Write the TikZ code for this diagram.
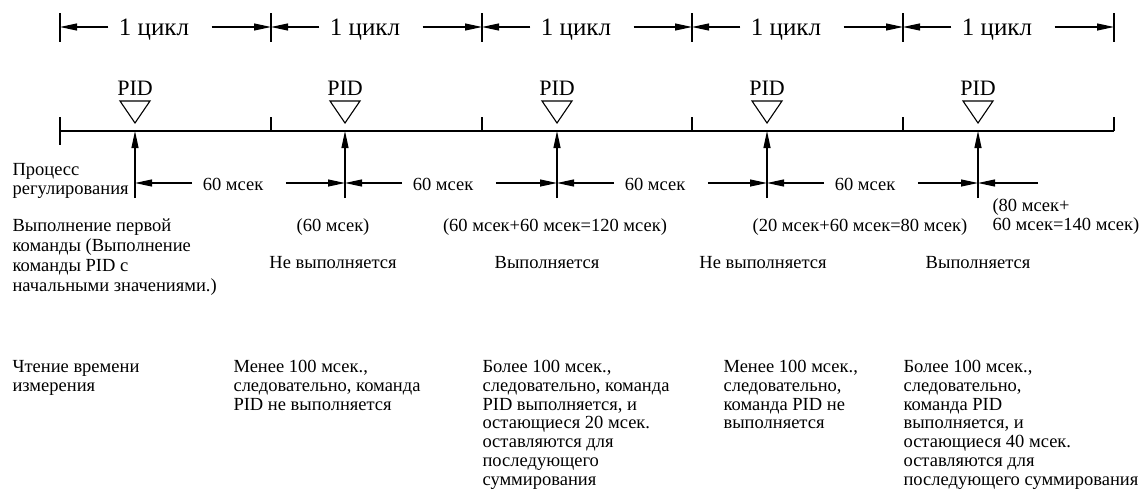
\documentclass[tikz,border=0pt]{standalone}
\usepackage{fontspec}
\setmainfont{Liberation Serif}
\usetikzlibrary{arrows.meta}

\begin{document}
\begin{tikzpicture}[x=1pt, y=-1pt, line width=1.1pt,
  arr/.style={-{Triangle[length=17pt,width=7pt]}},
  big/.style={font=\fontsize{22}{24}\selectfont, inner sep=0pt},
  cyclbl/.style={font=\fontsize{25}{27}\selectfont, inner sep=0pt},
  txt/.style={font=\fontsize{18.5}{18.7}\selectfont, inner sep=0pt},
  para/.style={txt, align=left, anchor=north west}]
  \useasboundingbox (0,0) rectangle (1146,498);

	% Timeline
	\coordinate (g0) at (60,131);
	\coordinate (g5) at (1114,131);
	\draw (g0) -- (g5);
	\draw (g0) -- (60,145);
	\foreach \x in {60,271,482,692,903,1114} {
		\draw (\x,13) -- (\x,42);
		\draw (\x,117) -- (\x,131);
	}

	% Cycles
	\foreach \i/\x/\n in {0/60/271, 1/271/482, 2/482/692, 3/692/903, 4/903/1114} {
		\coordinate (ta\i) at (\x,27);
		\coordinate (tb\i) at (\n,27);
		\node[cyclbl, anchor=base] (cyc\i) at (\x+94,35) {1 цикл};
		\draw[arr] ([xshift=-10pt]cyc\i.west |- ta\i) -- (ta\i);
		\draw[arr] ([xshift=22pt]cyc\i.east |- tb\i) -- (tb\i);
	}

	% PID marks
	\foreach \i/\p in {0/135, 1/345, 2/557, 3/767, 4/978} {
		\node[big, anchor=base] (pid\i) at (\p,95) {PID};
		\draw (\p-15,101) -- (\p+15,101) -- (\p,123) -- cycle;
		\coordinate (up\i) at (\p,131);
		\coordinate (lo\i) at (\p,198);
		\draw[arr] (lo\i) -- (up\i);
	}

	% 60 ms intervals
	\foreach \i/\p/\n in {0/135/345, 1/345/557, 2/557/767, 3/767/978} {
		\coordinate (da\i) at (\p,183);
		\coordinate (db\i) at (\n,183);
		\node[txt, anchor=base] (ms\i) at (\p+98,190) {60 мсек};
		\draw[arr] ([xshift=-10pt]ms\i.west |- da\i) -- (da\i);
		\draw[arr] ([xshift=22pt]ms\i.east |- da\i) -- (db\i);
	}
	\coordinate (dend) at (978,183);
	\coordinate (dtail) at (1038,183);
	\draw[arr] (dtail) -- (dend);

	% Row labels
	\node[para] (proc) at (12,163) {Процесс\\регулирования};
	\node[para, font=\fontsize{18.5}{20}\selectfont] (first) at (12,218)
		{Выполнение первой\\команды (Выполнение\\команды PID с\\начальными значениями.)};
	\node[para] (read) at (12,360) {Чтение времени\\измерения};

	% Accumulated time
	\node[txt, anchor=base] (sum1) at (333,231) {(60 мсек)};
	\node[txt, anchor=base] (sum2) at (555,231) {(60 мсек+60 мсек=120 мсек)};
	\node[txt, anchor=base] (sum3) at (860,231) {(20 мсек+60 мсек=80 мсек)};
	\node[para] (sum4) at (992,198) {(80 мсек+\\60 мсек=140 мсек)};

	% Execution
	\node[txt, anchor=base] (ex1) at (333,268) {Не выполняется};
	\node[txt, anchor=base] (ex2) at (547,268) {Выполняется};
	\node[txt, anchor=base] (ex3) at (763,268) {Не выполняется};
	\node[txt, anchor=base] (ex4) at (978,268) {Выполняется};

	% Explanations
	\node[para] (note1) at (233,360) {Менее 100 мсек.,\\следовательно, команда\\PID не выполняется};
	\node[para] (note2) at (482,360) {Более 100 мсек.,\\следовательно, команда\\PID выполняется, и\\остающиеся 20 мсек.\\оставляются для\\последующего\\суммирования};
	\node[para] (note3) at (723,360) {Менее 100 мсек.,\\следовательно,\\команда PID не\\выполняется};
	\node[para] (note4) at (903,360) {Более 100 мсек.,\\следовательно,\\команда PID\\выполняется, и\\остающиеся 40 мсек.\\оставляются для\\последующего суммирования};
\end{tikzpicture}
\end{document}
